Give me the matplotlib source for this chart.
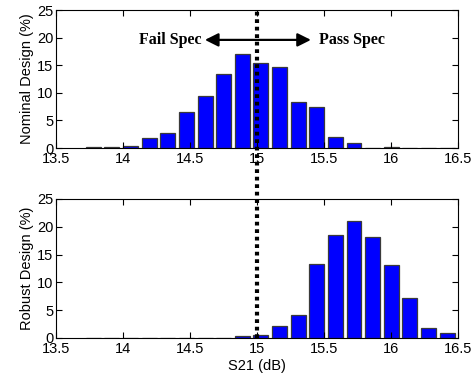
import matplotlib
matplotlib.use("Agg")
import matplotlib.pyplot as plt
from matplotlib.lines import Line2D

# bin centres shared by both histograms (S21 in dB)
bin_centers = [13.779, 13.918, 14.057, 14.196, 14.335, 14.474, 14.613, 14.752,
               14.891, 15.030, 15.169, 15.308, 15.447, 15.586, 15.725, 15.864,
               16.003, 16.142, 16.281, 16.420]
nominal = [0.1, 0.15, 0.4, 1.87, 2.72, 6.58, 9.48, 13.35,
           17.09, 15.4, 14.67, 8.39, 7.49, 1.93, 0.97, 0.0,
           0.1, 0.0, 0.0, 0.0]
robust = [0.0, 0.0, 0.0, 0.0, 0.0, 0.0, 0.0, 0.0,
          0.4, 0.6, 2.2, 4.08, 13.37, 18.59, 21.1, 18.1,
          13.13, 7.13, 1.74, 0.84]
x_ticks = [13.5, 14, 14.5, 15, 15.5, 16, 16.5]
x_tick_labels = ["13.5", "14", "14.5", "15", "15.5", "16", "16.5"]
y_ticks = [0, 5, 10, 15, 20, 25]
spec = 15.0

plt.rcParams['font.family'] = ['Liberation Sans', 'DejaVu Sans']
plt.rcParams['font.size'] = 10.5

fig = plt.figure(figsize=(4.74, 3.81), dpi=100)
ax_top = fig.add_axes([0.118, 0.6115, 0.848, 0.362])
ax_bot = fig.add_axes([0.118, 0.1129, 0.848, 0.365])

width = 0.8 * (bin_centers[1] - bin_centers[0])
for ax, vals, lab in [(ax_top, nominal, "Nominal Design (%)"),
                      (ax_bot, robust, "Robust Design (%)")]:
    ax.bar(bin_centers, vals, width=width, color="#0000ff",
           edgecolor="#3a3a3a", linewidth=0.9)
    ax.set_xlim(13.5, 16.5)
    ax.set_ylim(0, 25)
    ax.set_xticks(x_ticks)
    ax.set_xticklabels(x_tick_labels)
    ax.set_yticks(y_ticks)
    ax.tick_params(direction="in", top=True, right=True, length=4, width=0.8)
    ax.tick_params(axis="x", pad=3)
    ax.tick_params(axis="y", pad=2)
    ax.set_ylabel(lab, labelpad=2)
    for s in ax.spines.values():
        s.set_linewidth(0.8)

ax_bot.set_xlabel("S21 (dB)", labelpad=2)

# spec arrows and labels
ax_top.annotate("", xy=(14.612, 19.6), xytext=(15.403, 19.6),
                arrowprops=dict(arrowstyle="<|-|>", color="black", lw=1.6,
                                mutation_scale=20, shrinkA=0, shrinkB=0))
ax_top.text(14.59, 19.6, "Fail Spec", ha="right", va="center",
            fontsize=11.5, fontweight="bold", family="Liberation Serif")
ax_top.text(15.463, 19.6, "Pass Spec", ha="left", va="center",
            fontsize=11.5, fontweight="bold", family="Liberation Serif")

# dotted spec line spanning both axes
x0 = ax_top.transData.transform((spec, 0))[0]
xf = fig.transFigure.inverted().transform((x0, 0))[0]
line = Line2D([xf, xf], [0.113, 0.97], transform=fig.transFigure,
              color="black", linewidth=3.0, linestyle=(0, (0.9, 0.9)),
              dash_capstyle="butt")
fig.add_artist(line)

fig.savefig("out.png", dpi=100)
